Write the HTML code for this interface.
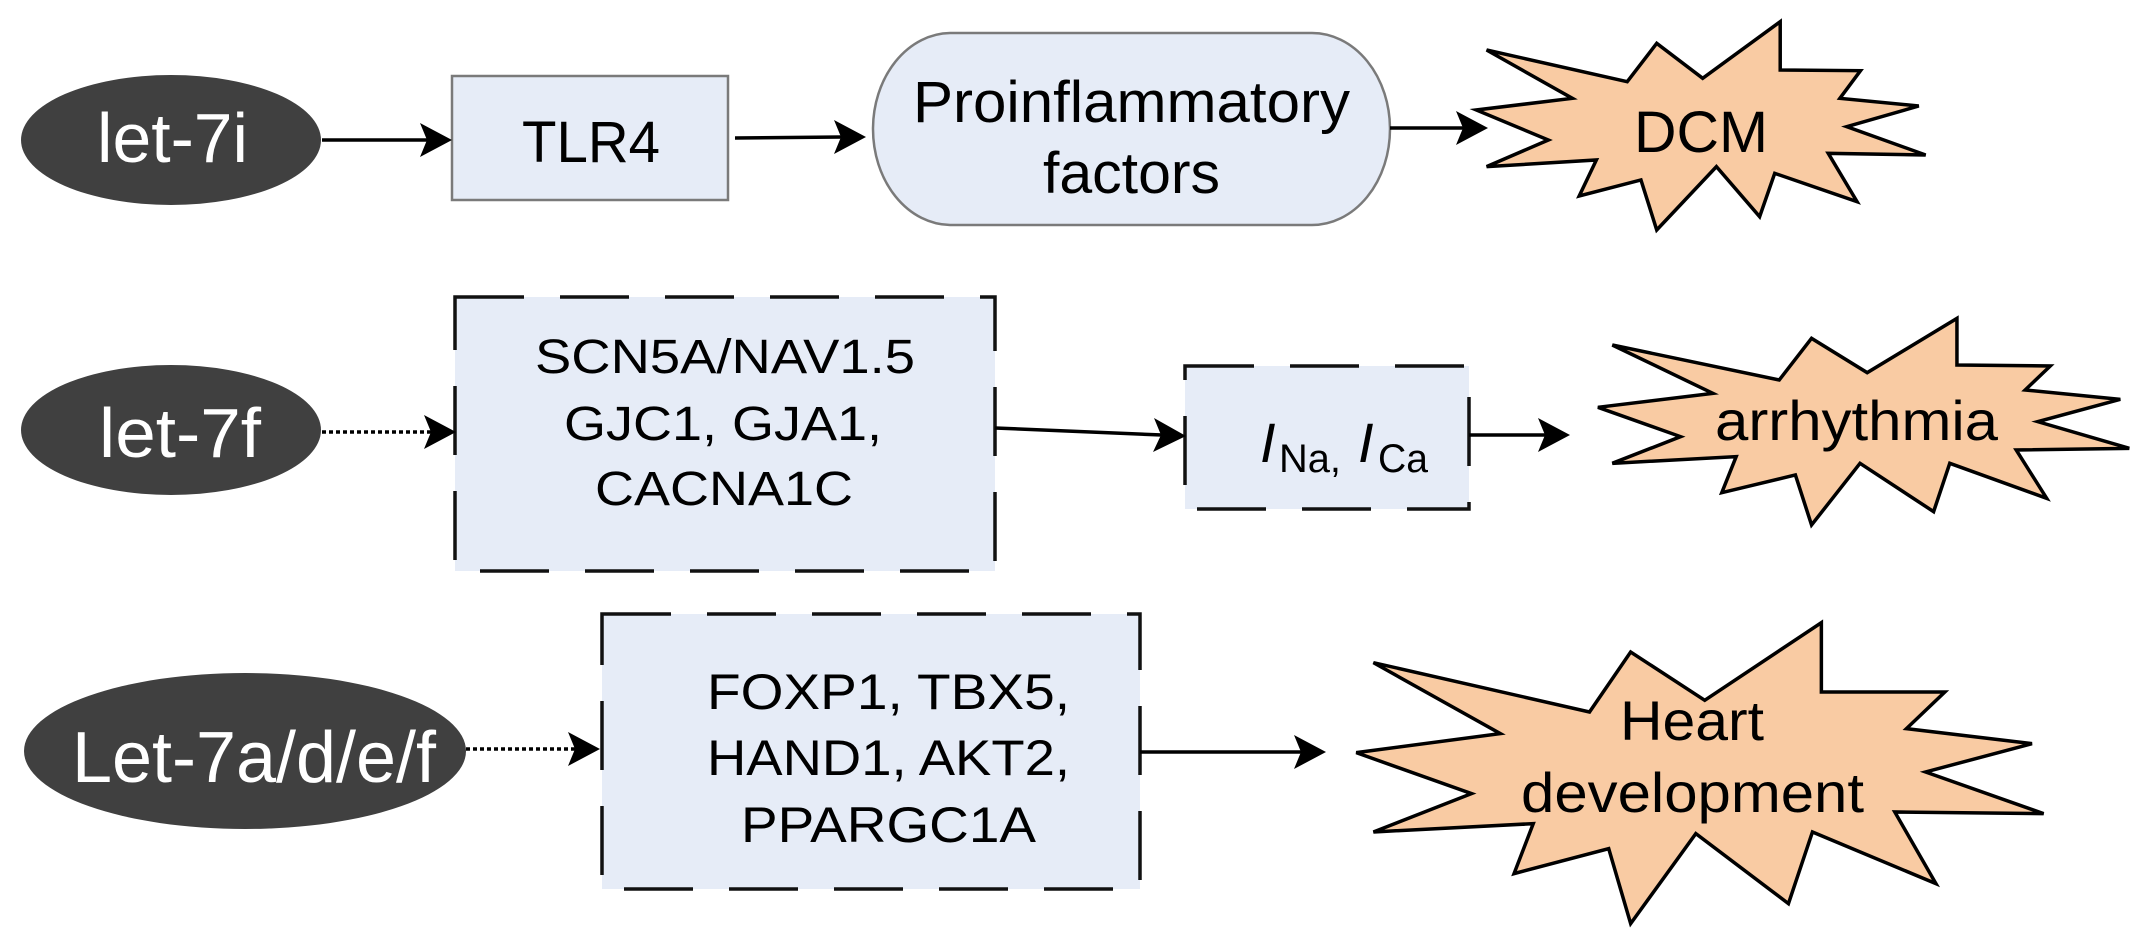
<!DOCTYPE html>
<html><head><meta charset="utf-8"><style>
html,body{margin:0;padding:0;background:#fff;}
svg{display:block;}
text{font-family:"Liberation Sans",Arial,sans-serif;}
</style></head><body>
<svg width="2149" height="947" viewBox="0 0 2149 947" xmlns="http://www.w3.org/2000/svg">
<!-- ellipses -->
<ellipse cx="171" cy="140" rx="150" ry="65" fill="#404040"/>
<text x="97" y="162" font-size="70" fill="#fff" textLength="151" lengthAdjust="spacingAndGlyphs">let-7i</text>
<ellipse cx="171" cy="430" rx="150" ry="65" fill="#404040"/>
<text x="99" y="457" font-size="70" fill="#fff" textLength="162" lengthAdjust="spacingAndGlyphs">let-7f</text>
<ellipse cx="245" cy="751" rx="221" ry="78" fill="#404040"/>
<text x="72" y="782" font-size="72" fill="#fff" textLength="364" lengthAdjust="spacingAndGlyphs">Let-7a/d/e/f</text>

<!-- TLR4 box -->
<rect x="452" y="76" width="276" height="124" fill="#e6ecf7" stroke="#7a7a7a" stroke-width="2.5"/>
<text x="522" y="162" font-size="58" textLength="138" lengthAdjust="spacingAndGlyphs">TLR4</text>

<!-- Proinflammatory -->
<path d="M950,33 H1312 A78,96 0 0 1 1390,129 A78,96 0 0 1 1312,225 H950 A78,96 0 0 1 873,129 A78,96 0 0 1 950,33 Z" fill="#e6ecf7" stroke="#7a7a7a" stroke-width="2.5"/>
<text x="913" y="122" font-size="58" textLength="437" lengthAdjust="spacingAndGlyphs">Proinflammatory</text>
<text x="1043" y="193" font-size="58" textLength="177" lengthAdjust="spacingAndGlyphs">factors</text>

<!-- dashed boxes -->
<rect x="455" y="297" width="540" height="274" fill="#e6ecf7" stroke="#111" stroke-width="3.5" stroke-dasharray="69,36"/>
<text x="535" y="373" font-size="48" textLength="380" lengthAdjust="spacingAndGlyphs">SCN5A/NAV1.5</text>
<text x="564" y="440" font-size="48" textLength="318" lengthAdjust="spacingAndGlyphs">GJC1, GJA1,</text>
<text x="595" y="505" font-size="48" textLength="258" lengthAdjust="spacingAndGlyphs">CACNA1C</text>

<rect x="1185" y="366" width="284" height="143" fill="#e6ecf7" stroke="#111" stroke-width="3.5" stroke-dasharray="69,36"/>
<text x="1260" y="462" font-size="56" font-style="italic">I</text>
<text x="1279" y="472" font-size="40" textLength="62" lengthAdjust="spacingAndGlyphs">Na,</text>
<text x="1358" y="462" font-size="56" font-style="italic">I</text>
<text x="1378" y="472" font-size="40" textLength="50" lengthAdjust="spacingAndGlyphs">Ca</text>

<rect x="602" y="614" width="538" height="275" fill="#e6ecf7" stroke="#111" stroke-width="3.5" stroke-dasharray="69,36"/>
<text x="707" y="709" font-size="50" textLength="363" lengthAdjust="spacingAndGlyphs">FOXP1, TBX5,</text>
<text x="707" y="775" font-size="50" textLength="363" lengthAdjust="spacingAndGlyphs">HAND1, AKT2,</text>
<text x="741" y="842" font-size="50" textLength="295" lengthAdjust="spacingAndGlyphs">PPARGC1A</text>

<!-- stars -->
<g transform="translate(1075,0) scale(0.686,0.3333)">
<polygon vector-effect="non-scaling-stroke" fill="#f9cba3" stroke="#000" stroke-width="3.5"
points="600,150 805,245 848,130 915,235 1028,65 1028,210 1145,212 1115,295 1230,318 1125,380 1240,465 1098,460 1140,605 1020,520 998,650 935,500 848,690 825,540 735,588 760,480 600,500 690,420 585,330 725,295"/>
</g>
<text x="1634" y="152" font-size="58" textLength="134" lengthAdjust="spacingAndGlyphs">DCM</text>

<g transform="translate(1580,300) scale(0.359,0.3333)">
<polygon vector-effect="non-scaling-stroke" fill="#f9cba3" stroke="#000" stroke-width="3.5"
points="90,135 555,240 645,115 800,218 1050,55 1050,195 1310,198 1240,270 1505,298 1275,365 1530,445 1215,450 1300,595 1030,490 985,635 780,490 645,675 600,525 395,578 435,470 90,490 280,410 50,322 370,280"/>
</g>
<text x="1715" y="440" font-size="56" textLength="283" lengthAdjust="spacingAndGlyphs">arrhythmia</text>

<g transform="translate(1075,472) scale(0.686,0.3333)">
<polygon vector-effect="non-scaling-stroke" fill="#f9cba3" stroke="#000" stroke-width="3.5"
points="435,572 750,720 810,540 918,685 1088,452 1088,660 1268,660 1212,770 1395,815 1240,900 1412,1025 1195,1020 1255,1235 1075,1080 1040,1295 905,1085 810,1355 778,1130 640,1205 668,1055 435,1080 578,965 410,842 620,785"/>
</g>
<text x="1620" y="740" font-size="56" textLength="144" lengthAdjust="spacingAndGlyphs">Heart</text>
<text x="1521" y="812" font-size="56" textLength="343" lengthAdjust="spacingAndGlyphs">development</text>

<!-- arrows -->
<g stroke="#000" stroke-width="3.5" fill="none">
<line x1="322" y1="140" x2="428" y2="140"/>
<line x1="735" y1="138" x2="842" y2="137"/>
<line x1="1390" y1="128" x2="1465" y2="128"/>
<line x1="322" y1="432" x2="432" y2="432" stroke-dasharray="4,3"/>
<line x1="995" y1="428" x2="1162" y2="435"/>
<line x1="1469" y1="435" x2="1546" y2="435"/>
<line x1="466" y1="749" x2="575" y2="749" stroke-dasharray="4,3"/>
<line x1="1140" y1="752" x2="1302" y2="752"/>
</g>
<g fill="#000">
<polygon points="452,140 420,123 427,140 420,157"/>
<polygon points="866,137 834,120 841,137 834,154"/>
<polygon points="1488,128 1456,111 1463,128 1456,145"/>
<polygon points="456,432 424,415 431,432 424,449"/>
<polygon points="1186,436 1154,418 1161,435 1153,452"/>
<polygon points="1570,435 1538,418 1545,435 1538,452"/>
<polygon points="600,749 568,732 575,749 568,766"/>
<polygon points="1326,752 1294,735 1301,752 1294,769"/>
</g>
</svg>
</body></html>
